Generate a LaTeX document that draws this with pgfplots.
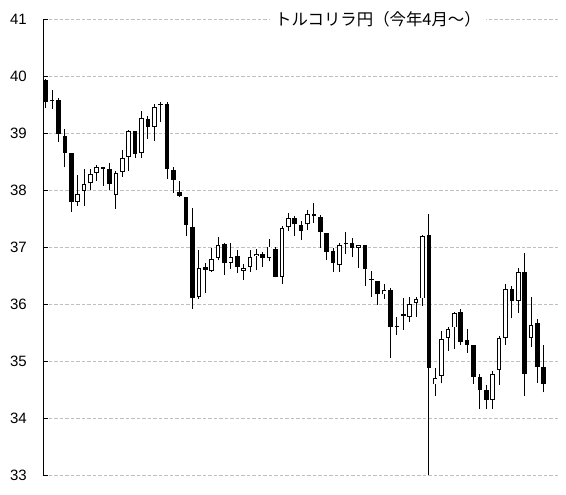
\documentclass[border=0pt]{standalone}
\usepackage{fontspec}
\setmainfont{Liberation Sans}
\newfontfamily\jp{Noto Sans CJK JP}
\usepackage{pgfplots}
\usepackage{pgfplotstable}
\pgfplotsset{compat=1.18}

% i open high low close
\pgfplotstableread{
i O H L C
1 39.93 39.95 39.45 39.55
2 39.58 39.76 39.42 39.56
3 39.58 39.61 38.85 38.98
4 38.95 39.07 38.40 38.66
5 38.65 38.65 37.62 37.80
6 37.80 38.26 37.73 37.94
7 37.99 38.37 37.72 38.10
8 38.12 38.38 38.01 38.29
9 38.30 38.45 38.17 38.41
10 38.40 38.40 38.08 38.38
11 38.37 38.48 38.01 38.11
12 37.92 38.34 37.67 38.30
13 38.32 38.71 38.24 38.56
14 38.58 39.06 38.34 39.04
15 39.04 39.04 38.57 38.64
16 38.65 39.39 38.57 39.26
17 39.25 39.31 38.90 39.11
18 39.11 39.51 38.87 39.46
19 39.50 39.54 39.19 39.49
20 39.51 39.54 38.20 38.37
21 38.35 38.40 37.95 38.18
22 37.96 38.16 37.88 37.90
23 37.88 37.88 37.19 37.39
24 37.36 37.68 35.91 36.11
25 36.12 36.95 36.09 36.64
26 36.66 36.73 36.19 36.60
27 36.59 36.99 36.57 36.79
28 36.81 37.18 36.77 37.03
29 37.05 37.07 36.51 36.72
30 36.72 37.07 36.62 36.82
31 36.84 36.95 36.54 36.65
32 36.58 36.71 36.43 36.63
33 36.65 36.95 36.57 36.82
34 36.84 36.97 36.60 36.88
35 36.88 36.91 36.65 36.81
36 36.81 37.15 36.75 37.01
37 36.97 37.01 36.47 36.48
38 36.48 37.38 36.35 37.33
39 37.35 37.60 37.28 37.51
40 37.52 37.54 37.19 37.40
41 37.39 37.46 37.13 37.28
42 37.40 37.66 37.30 37.58
43 37.58 37.77 37.42 37.54
44 37.53 37.57 36.98 37.26
45 37.25 37.25 36.77 36.92
46 36.94 36.98 36.57 36.72
47 36.68 37.07 36.57 37.03
48 37.07 37.26 36.88 37.06
49 37.07 37.16 36.82 36.99
50 36.99 37.04 36.64 37.03
51 37.04 37.04 36.31 36.61
52 36.44 36.58 36.13 36.42
53 36.41 36.41 35.99 36.17
54 36.17 36.35 36.09 36.25
55 36.25 36.28 35.06 35.59
56 35.62 35.77 35.46 35.60
57 35.79 36.10 35.55 35.81
58 35.78 36.13 35.68 36.00
59 36.02 36.13 35.78 36.09
60 36.10 37.22 35.97 37.19
61 37.22 37.59 33.00 34.88
62 34.59 34.87 34.39 34.71
63 34.74 35.53 34.61 35.38
64 35.40 35.59 35.18 35.56
65 35.59 35.87 35.22 35.84
66 35.87 35.91 35.28 35.34
67 35.37 35.56 35.15 35.29
68 35.29 35.29 34.60 34.72
69 34.72 34.77 34.15 34.50
70 34.49 34.58 34.15 34.31
71 34.32 34.83 34.15 34.78
72 34.84 35.44 34.58 35.40
73 35.41 36.35 35.28 36.26
74 36.26 36.32 35.75 36.05
75 36.05 36.63 35.84 36.57
76 36.57 36.89 34.39 34.78
77 35.41 36.12 35.25 35.64
78 35.66 35.73 34.62 34.90
79 34.89 35.28 34.45 34.60
}\candles

\begin{document}
\begin{tikzpicture}
\begin{axis}[
    scale only axis,
    width=515.7bp, height=455.7bp,
    xmin=0.624, xmax=81.39,
    ymin=33, ymax=41,
    ytick={33,34,...,41},
    xtick=\empty,
    axis x line=none,
    axis y line*=left,
    axis line style={black, line width=0.9bp},
    tick align=inside,
    ytick pos=left,
    major tick length=5bp,
    tick style={black, line width=0.9bp},
    ymajorgrids,
    grid style={black!25, line width=0.8bp, dash pattern=on 3.3bp off 2.2bp},
    yticklabel style={font=\fontsize{15bp}{18bp}\selectfont, anchor=east, xshift=-13bp},
    /pgf/number format/assume math mode=true,
    clip=false,
    candle/.style={draw=none, mark=none,
        error bars/y dir=plus, error bars/y explicit,
        error bars/error mark=none,
        error bars/error bar style={draw=#1, solid}},
]
% wicks: low to high
\addplot[candle=black, error bars/error bar style={line width=0.9bp}]
    table[x=i, y=L, y error plus expr={\thisrow{H}-\thisrow{L}}] {\candles};
% falling days: solid black body
\addplot[candle=black, error bars/error bar style={line width=4.6bp},
    restrict expr to domain={\thisrow{O}-\thisrow{C}}{0.0001:100}]
    table[x=i, y=C, y error plus expr={max(\thisrow{O}-\thisrow{C},0.018)}] {\candles};
% rising days: black outline ...
\addplot[candle=black, error bars/error bar style={line width=4.6bp},
    restrict expr to domain={\thisrow{C}-\thisrow{O}}{0:100}]
    table[x=i, y=O, y error plus expr={max(\thisrow{C}-\thisrow{O},0.03)}] {\candles};
% ... with white inside
\addplot[candle=white, error bars/error bar style={line width=2.8bp},
    restrict expr to domain={\thisrow{C}-\thisrow{O}}{0.035:100}]
    table[x=i, y expr={\thisrow{O}+0.016}, y error plus expr={\thisrow{C}-\thisrow{O}-0.032}] {\candles};
\node[fill=white, inner xsep=5bp, inner ysep=1bp,
      font=\jp\fontsize{16.4bp}{19bp}\selectfont]
      at (rel axis cs:0.649,1) {トルコリラ円（今年4月～）};
\end{axis}
\pgfresetboundingbox
\path[use as bounding box] (-43.3bp,-20bp) rectangle (522.7bp,475bp);
\end{tikzpicture}
\end{document}
